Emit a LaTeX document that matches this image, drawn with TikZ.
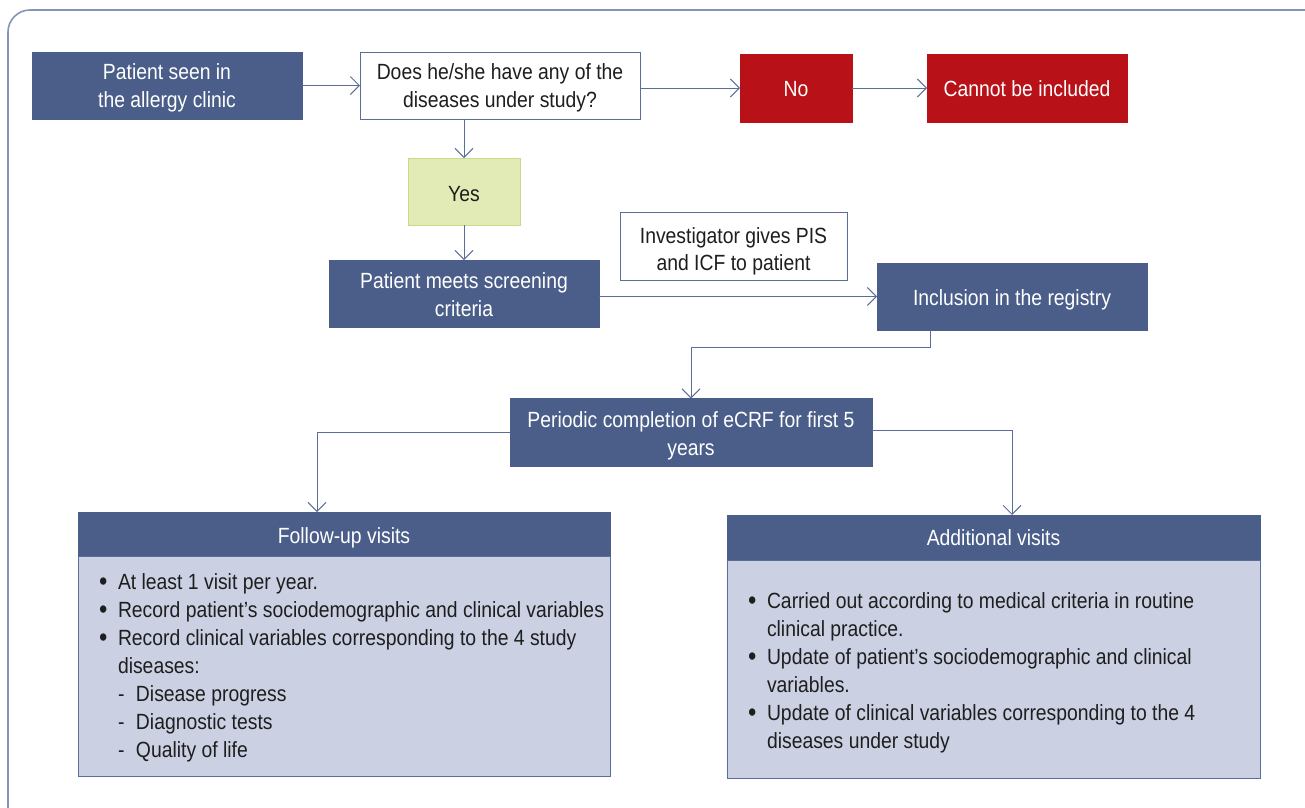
\documentclass[tikz,border=0pt]{standalone}
\usepackage{fontspec}
\usepackage{graphicx}
\setmainfont[FakeStretch=0.88]{Liberation Sans}
\usetikzlibrary{arrows.meta}
\definecolor{dblue}{HTML}{4A5E89}
\definecolor{lblue}{HTML}{CBD1E3}
\definecolor{bordblue}{HTML}{5A6E99}
\definecolor{linec}{HTML}{5B6E98}
\definecolor{framec}{HTML}{8494B8}
\definecolor{redc}{HTML}{B81118}
\definecolor{yesfill}{HTML}{E2EBB5}
\definecolor{yesbord}{HTML}{C6D98C}
\definecolor{txt}{HTML}{1E1E1E}
\newcommand{\mybul}{\makebox[19pt][l]{\raisebox{-0.5pt}{\fontsize{27}{28}\selectfont\textbullet}}}
\newcommand{\myind}{\hspace*{19pt}}
\newcommand{\bx}{\rule[-10pt]{0pt}{20pt}}
\begin{document}
\begin{tikzpicture}[x=1pt,y=-1pt,
  every node/.style={inner sep=0pt,outer sep=0pt},
  mainfont/.style={font=\fontsize{22}{28}\selectfont},
  darkbox/.style={fill=dblue,draw=dblue,line width=0.8pt},
  whitebox/.style={fill=white,draw=bordblue,line width=1pt},
  redbox/.style={fill=redc,draw=redc},
  yesbox/.style={fill=yesfill,draw=yesbord,line width=1pt},
  bodybox/.style={fill=lblue,draw=bordblue,line width=1pt},
  lighttext/.style={mainfont,align=center,text=white},
  darktext/.style={mainfont,align=center,text=txt},
  listtext/.style={mainfont,text=txt,align=left,anchor=north west},
  conn/.style={draw=linec,line width=1pt,-{Straight Barb[length=9pt,width=18pt,line width=1pt]}}
]
\useasboundingbox (0,0) rectangle (1305,807);
\begin{scope}
\clip (0,0) rectangle (1305,807);
\draw[framec,line width=1.6pt,rounded corners=22] (1330,10) -- (8,10) -- (8,830) -- (1330,830);
\end{scope}

% top row
\node[darkbox,minimum width=270,minimum height=67] (seen) at (167,85.5) {};
\node[lighttext] (seen-t) at ([yshift=-5]seen.center) {\bx Patient seen in\\\bx the allergy clinic};
\node[whitebox,minimum width=280,minimum height=67] (does) at (500,85.5) {};
\node[darktext] (does-t) at ([yshift=-5]does.center) {\bx Does he/she have any of the\\\bx diseases under study?};
\node[redbox,minimum width=112,minimum height=68] (no) at (796,88) {};
\node[lighttext] (no-t) at ([yshift=-6]no.center) {\bx No};
\node[redbox,minimum width=200,minimum height=68] (cannot) at (1027,88) {};
\node[lighttext] (cannot-t) at ([yshift=-6]cannot.center) {\bx Cannot be included};
\node[yesbox,minimum width=112,minimum height=67] (yes) at (464,191.5) {};
\node[darktext] (yes-t) at ([yshift=-7.5]yes.center) {\bx Yes};

% middle row
\node[darkbox,minimum width=270,minimum height=67] (meets) at (464,293.5) {};
\node[lighttext] (meets-t) at ([yshift=-6]meets.center) {\bx Patient meets screening\\\bx criteria};
\node[whitebox,minimum width=227,minimum height=68] (invest) at (733.5,246.5) {};
\node[darktext,font=\fontsize{22}{26.5}\selectfont] (invest-t) at ([yshift=-7.5]invest.center) {\bx Investigator gives PIS\\\bx and ICF to patient};
\node[darkbox,minimum width=270,minimum height=67] (incl) at (1012,296.5) {};
\node[lighttext] (incl-t) at ([yshift=-6.5]incl.center) {\bx Inclusion in the registry};
\node[darkbox,minimum width=362,minimum height=68] (period) at (691,432.5) {};
\node[lighttext] (period-t) at ([yshift=-6.5]period.center) {\bx Periodic completion of eCRF for first 5\\\bx years};

% bottom boxes
\node[darkbox,minimum width=532,minimum height=44] (fhead) at (344,534) {};
\node[lighttext] (fhead-t) at ([yshift=-6.5]fhead.center) {\bx Follow-up visits};
\node[bodybox,minimum width=532,minimum height=220,anchor=north] (fbody) at (fhead.south) {};
\node[darkbox,minimum width=533,minimum height=45] (ahead) at (993.5,537.5) {};
\node[lighttext] (ahead-t) at ([yshift=-5]ahead.center) {\bx Additional visits};
\node[bodybox,minimum width=533,minimum height=218,anchor=north] (abody) at (ahead.south) {};

\node[listtext] (flist) at (99,574) {%
\mybul At least 1 visit per year.\\
\mybul Record patient’s sociodemographic and clinical variables\\
\mybul Record clinical variables corresponding to the 4 study\\
\myind diseases:\\
\myind\makebox[18pt][l]{-}Disease progress\\
\myind\makebox[18pt][l]{-}Diagnostic tests\\
\myind\makebox[18pt][l]{-}Quality of life};

\node[listtext] (alist) at (748,593) {%
\mybul Carried out according to medical criteria in routine\\
\myind clinical practice.\\
\mybul Update of patient’s sociodemographic and clinical\\
\myind variables.\\
\mybul Update of clinical variables corresponding to the 4\\
\myind diseases under study};

% connectors
\coordinate (inclout) at (930,330);
\coordinate (fin) at (317,512);
\coordinate (ain) at (1012,515);
\draw[conn] (seen.east) -- (does.west);
\draw[conn] (does.east |- no.west) -- (no.west);
\draw[conn] (no.east) -- (cannot.west);
\draw[conn] (yes.north |- does.south) -- (yes.north);
\draw[conn] (yes.south) -- (meets.north);
\draw[conn] (meets.east |- incl.west) -- (incl.west);
\draw[conn] (inclout) -- ++(0,17) -| (period.north);
\draw[conn] (period.west) -| (fin);
\draw[conn] ([yshift=2]period.east) -| (ain);
\end{tikzpicture}
\end{document}
